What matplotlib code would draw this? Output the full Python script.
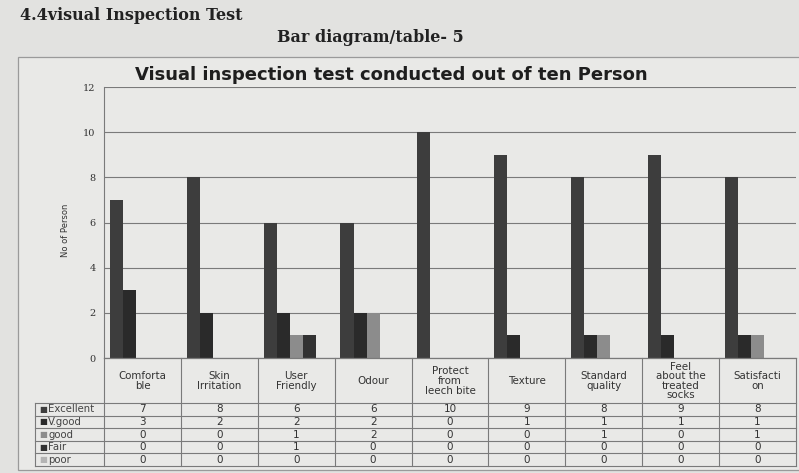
import matplotlib.pyplot as plt
from matplotlib.patches import Rectangle
import numpy as np

categories = ['Comforta\nble', 'Skin\nIrritation', 'User\nFriendly', 'Odour',
              'Protect\nfrom\nleech bite', 'Texture', 'Standard\nquality',
              'Feel\nabout the\ntreated\nsocks', 'Satisfacti\non']
series = ['Excellent', 'V.good', 'good', 'Fair', 'poor']
excellent = [7, 8, 6, 6, 10, 9, 8, 9, 8]
v_good = [3, 2, 2, 2, 0, 1, 1, 1, 1]
good = [0, 0, 1, 2, 0, 0, 1, 0, 1]
fair = [0, 0, 1, 0, 0, 0, 0, 0, 0]
poor = [0, 0, 0, 0, 0, 0, 0, 0, 0]
colors = ['#3d3d3d', '#2a2a2a', '#8c8c8c', '#323232', '#b4b4b4']

W, H = 799, 473
def fx(px):
    return px / W
def fy(py):
    return 1 - py / H

fig = plt.figure(figsize=(W / 100, H / 100), dpi=100, facecolor='#e2e2e0')

# chart frame
fig.patches.append(Rectangle((fx(18), fy(470)), fx(805) - fx(18), fy(57) - fy(470),
                             transform=fig.transFigure, facecolor='#e9e9e7',
                             edgecolor='#9a9a9a', lw=0.9, zorder=-10))

fig.text(fx(20), fy(15), '4.4visual Inspection Test', family='DejaVu Serif',
         weight='bold', size=11.5, va='center', color='#222222')
fig.text(fx(277), fy(38), 'Bar diagram/table- 5', family='DejaVu Serif',
         weight='bold', size=11.5, va='center', color='#222222')
fig.text(fx(391), fy(75), 'Visual inspection test conducted out of ten Person',
         weight='bold', size=13, ha='center', va='center', color='#1e1e1e')
fig.text(fx(65), fy(230), 'No of Person', rotation=90, size=6,
         ha='center', va='center', color='#333333')

left, right, top, zero, bottom = 104, 796, 87, 358, 466
ax = fig.add_axes([fx(left), fy(zero), fx(right) - fx(left), fy(top) - fy(zero)])
ax.set_facecolor('none')

x = np.arange(len(categories))
bw = 0.17
data = [excellent, v_good, good, fair, poor]
for k, vals in enumerate(data):
    ax.bar(x + (k - 2) * bw, vals, bw, color=colors[k], zorder=3)

ax.set_xlim(-0.5, len(categories) - 0.5)
ax.set_ylim(0, 12)
ax.set_yticks(range(0, 13, 2))
ax.set_yticklabels([str(v) for v in range(0, 13, 2)], family='DejaVu Serif',
                   size=7, color='#333333')
ax.tick_params(axis='y', length=0, pad=6)
ax.set_xticks([])
ax.grid(axis='y', color='#7a7a7a', lw=0.8, zorder=0)
for s in ['top', 'right', 'bottom']:
    ax.spines[s].set_visible(False)
ax.spines['left'].set_color('#7a7a7a')

# data table below the plot
tab = fig.add_axes([fx(left), fy(bottom), fx(right) - fx(left), fy(zero) - fy(bottom)])
tab.set_xlim(-0.5, len(categories) - 0.5)
tab.set_ylim(bottom, zero)
tab.axis('off')
lc = '#7a7a7a'
label_left = -0.5 + (35 - left) / ((right - left) / len(categories))
head_bot = 403
row_h = (bottom - head_bot) / len(series)

tab.plot([-0.5, len(categories) - 0.5], [zero, zero], color=lc, lw=0.9, clip_on=False)
for r in range(len(series) + 1):
    yy = head_bot + r * row_h
    tab.plot([label_left, len(categories) - 0.5], [yy, yy], color=lc, lw=0.8, clip_on=False)
for i in range(len(categories) + 1):
    tab.plot([i - 0.5, i - 0.5], [zero, bottom], color=lc, lw=0.8, clip_on=False)
tab.plot([label_left, label_left], [head_bot, bottom], color=lc, lw=0.8, clip_on=False)

for i, c in enumerate(categories):
    tab.text(i, (zero + head_bot) / 2 + 0.5, c, ha='center', va='center', size=7.4,
             linespacing=0.95, color='#333333')
for r, name in enumerate(series):
    yc = head_bot + (r + 0.5) * row_h
    tab.text(label_left + 0.05, yc, '\u25a0', color=colors[r], size=6,
             ha='left', va='center', clip_on=False)
    tab.text(label_left + 0.17, yc, name, color='#444444', size=7.3,
             ha='left', va='center', clip_on=False)
    for i, v in enumerate(data[r]):
        tab.text(i, yc, str(v), ha='center', va='center', size=7.5, color='#333333')

fig.savefig('out.png', dpi=100, facecolor=fig.get_facecolor())
